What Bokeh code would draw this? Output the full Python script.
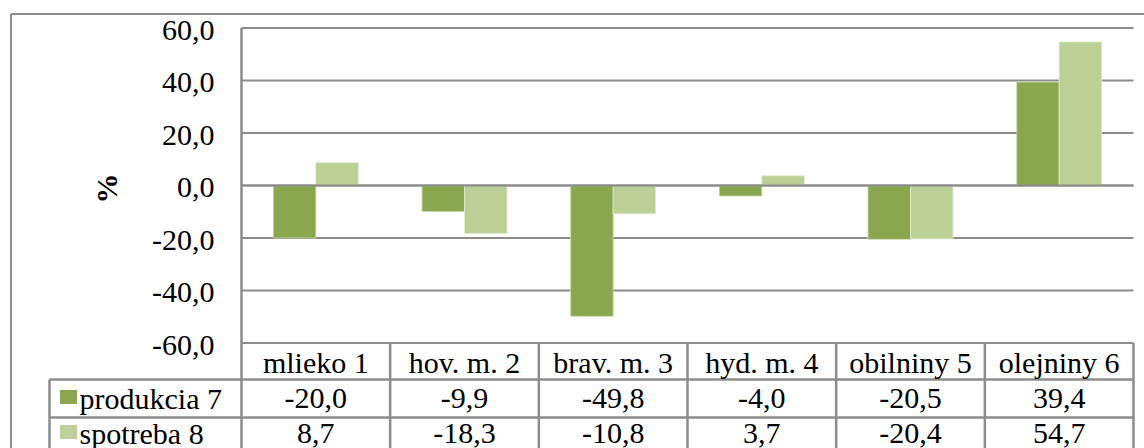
import math
from bokeh.plotting import figure
from bokeh.models import Range1d, ColumnDataSource
from bokeh.core.properties import value
from bokeh.embed import file_html
from bokeh.resources import INLINE

# ---- data ----
categories = ["mlieko 1", "hov. m. 2", "brav. m. 3", "hyd. m. 4", "obilniny 5", "olejniny 6"]
series_names = ["produkcia 7", "spotreba 8"]
produkcia = [-20.0, -9.9, -49.8, -4.0, -20.5, 39.4]
spotreba = [8.7, -18.3, -10.8, 3.7, -20.4, 54.7]
y_ticks = [60, 40, 20, 0, -20, -40, -60]
axis_label = "%"

# ---- styling / layout ----
colors = ["#8aa64f", "#bbcf96"]
grid_color = "#8c8c8c"
FONT = value("'Liberation Serif', 'Times New Roman', serif")
FS = "30px"
W, H = 1144, 448
x0px, x1px = 241, 1133          # plot area left/right (px)
ytop_px, ybot_px = 27.5, 342.5  # plot area top/bottom (px)
ymax, ymin = max(y_ticks), min(y_ticks)
ncat = len(categories)
sx = (x1px - x0px) / ncat
sy = (ybot_px - ytop_px) / (ymax - ymin)
row_edges = [ybot_px, 379, 417, 455]
row_centers = [361, 397.5, 432.5]
table_left = 49

fmt = lambda v: f"{v:.1f}".replace(".", ",")

p = figure(width=W, height=H, output_backend="svg", toolbar_location=None,
           x_range=Range1d(-x0px / sx, ncat + (W - x1px) / sx),
           y_range=Range1d(ymin - (H - ybot_px) / sy, ymax + ytop_px / sy),
           x_axis_location=None, y_axis_location=None,
           min_border=0, outline_line_color=None, background_fill_color="white",
           border_fill_color="white")
p.grid.visible = False
p.extra_x_ranges = {"px": Range1d(0, W)}
p.extra_y_ranges = {"px": Range1d(H, 0)}

# outer chart border
p.segment(x0=[10.5, 10.5], y0=[13.5, 13.5], x1=[10.5, W + 5], y1=[H + 5, 13.5],
          line_color=grid_color, line_width=2, x_range_name="px", y_range_name="px")

# horizontal gridlines
p.segment(x0=[0] * len(y_ticks), x1=[ncat] * len(y_ticks), y0=y_ticks, y1=y_ticks,
          line_color=grid_color, line_width=2.2)

# bars
w = 1 / 3.5
idx = list(range(ncat))
src = ColumnDataSource(dict(
    x1=[i + 0.5 - w / 2 for i in idx], x2=[i + 0.5 + w / 2 for i in idx],
    prod=produkcia, spot=spotreba))
p.vbar(x="x1", width=w, top="prod", bottom=0, source=src,
       fill_color=colors[0], line_color="#c9d9ad", line_width=0.8)
p.vbar(x="x2", width=w, top="spot", bottom=0, source=src,
       fill_color=colors[1], line_color="#e2ebd3", line_width=0.8)

# zero line on top of bars
p.segment(x0=[0], x1=[ncat], y0=[0], y1=[0], line_color=grid_color, line_width=2.2)

# plot-area left edge continuing into the table
p.segment(x0=[0], x1=[0], y0=[ytop_px], y1=[H + 5], line_color=grid_color,
          line_width=2.5, y_range_name="px")
# table vertical lines between/after category columns
p.segment(x0=list(range(1, ncat + 1)), x1=list(range(1, ncat + 1)),
          y0=[ybot_px] * ncat, y1=[H + 5] * ncat,
          line_color=grid_color, line_width=2.5, y_range_name="px")
# table left edge (row header column)
p.segment(x0=[table_left], x1=[table_left], y0=[row_edges[1]], y1=[H + 5],
          line_color=grid_color, line_width=2.5, x_range_name="px", y_range_name="px")
# table horizontal lines
p.segment(x0=[table_left, table_left], x1=[x1px, x1px], y0=row_edges[1:3], y1=row_edges[1:3],
          line_color=grid_color, line_width=2.5, x_range_name="px", y_range_name="px")

# y tick labels
p.text(x=[214] * len(y_ticks), y=y_ticks, text=[fmt(t) for t in y_ticks],
       text_align="right", text_baseline="middle", y_offset=2,
       text_font=FONT, text_font_size=FS, text_color="black", x_range_name="px")

# axis title
p.text(x=[106], y=[188], text=[axis_label], angle=math.pi / 2,
       text_align="center", text_baseline="middle", text_font=FONT,
       text_font_size=FS, text_font_style="bold", text_color="black",
       x_range_name="px", y_range_name="px")

# table header (categories)
p.text(x=[i + 0.5 for i in idx], y=[row_centers[0]] * ncat, text=categories,
       text_align="center", text_baseline="middle", y_offset=1,
       text_font=FONT, text_font_size=FS, text_color="black", y_range_name="px")

# table rows
for r, (name, vals, col) in enumerate(zip(series_names, [produkcia, spotreba], colors)):
    yc = row_centers[r + 1]
    p.rect(x=[68], y=[yc - 1], width=17, height=14, fill_color=col, line_color=None,
           x_range_name="px", y_range_name="px")
    p.text(x=[79], y=[yc], text=[name], text_align="left", text_baseline="middle",
           text_font=FONT, text_font_size=FS, text_color="black",
           x_range_name="px", y_range_name="px")
    p.text(x=[i + 0.5 for i in idx], y=[yc] * ncat, text=[fmt(v) for v in vals],
           text_align="center", text_baseline="middle",
           text_font=FONT, text_font_size=FS, text_color="black", y_range_name="px")

open("out.html", "w").write(file_html(p, INLINE))
